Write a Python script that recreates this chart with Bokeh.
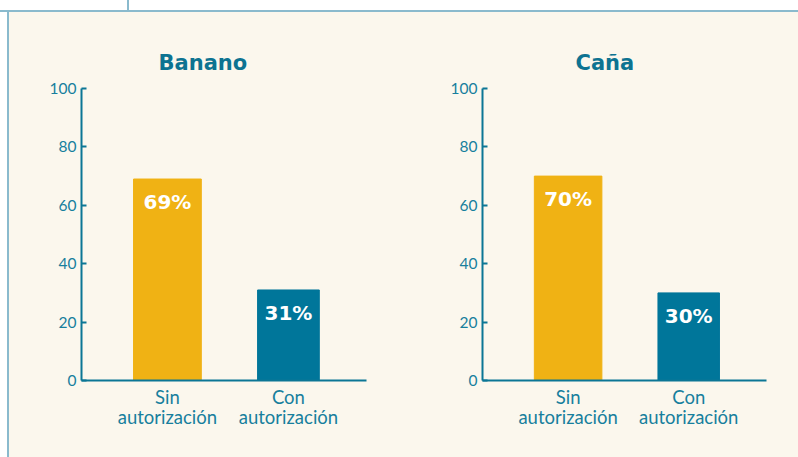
from bokeh.plotting import figure
from bokeh.layouts import column, row
from bokeh.models import Div, Range1d, FixedTicker, ColumnDataSource, LabelSet
from bokeh.core.properties import value
from bokeh.embed import file_html
from bokeh.resources import INLINE

# ---- data ----
categories = ["Sin\nautorización", "Con\nautorización"]
banano = [69, 31]
cana = [70, 30]
titles = ["Banano", "Caña"]
yticks = [0, 20, 40, 60, 80, 100]

# ---- styles ----
BG = "#FBF7ED"
FRAME = "#8ABACD"
YELLOW = "#F0B214"
TEAL = "#00769A"
AXIS = "#0B7695"
LABEL = "#177F9D"
TITLE = "#0D7391"
bar_colors = [YELLOW, TEAL]
bar_widths = [0.56, 0.51]
PANEL_H = 445


def make_panel(title, values, width, left_border, right_border, title_offset):
    p = figure(width=width, height=PANEL_H, output_backend="svg", toolbar_location=None,
               x_range=Range1d(-0.71, 1.645), y_range=Range1d(0, 100),
               min_border_left=left_border, min_border_right=right_border,
               min_border_top=76, min_border_bottom=PANEL_H - 76 - 292,
               background_fill_color=BG, border_fill_color=BG,
               outline_line_color=None)
    idx = list(range(len(categories)))
    src = ColumnDataSource(dict(
        x=idx, top=values, color=bar_colors, w=bar_widths,
        label=[f"{v}%" for v in values],
    ))
    p.vbar(x="x", top="top", width="w", bottom=0, color="color", source=src)

    labels = LabelSet(x="x", y="top", text="label", source=src,
                      text_align="center", text_baseline="top", y_offset=-11,
                      text_color="white", text_font=value("DejaVu Sans"),
                      text_font_style="bold", text_font_size="20px")
    p.add_layout(labels)

    p.title.text = title
    p.title.align = "left"
    p.title.offset = title_offset
    p.title.standoff = 27
    p.title.text_font = "DejaVu Sans"
    p.title.text_font_style = "bold"
    p.title.text_font_size = "21px"
    p.title.text_color = TITLE

    p.xgrid.visible = False
    p.ygrid.visible = False

    xa = p.xaxis[0]
    xa.ticker = FixedTicker(ticks=idx, minor_ticks=[])
    xa.major_label_overrides = {i: c for i, c in enumerate(categories)}
    xa.major_tick_line_color = None
    xa.minor_tick_line_color = None
    xa.axis_line_color = AXIS
    xa.axis_line_width = 2
    xa.major_label_text_font = "Lato"
    xa.major_label_text_font_size = "18.5px"
    xa.major_label_text_color = LABEL
    xa.major_label_text_line_height = 0.92
    xa.major_label_standoff = -1

    ya = p.yaxis[0]
    ya.ticker = FixedTicker(ticks=yticks, minor_ticks=[])
    ya.major_tick_in = 5
    ya.major_tick_out = 0
    ya.major_tick_line_color = AXIS
    ya.major_tick_line_width = 2
    ya.minor_tick_line_color = None
    ya.axis_line_color = AXIS
    ya.axis_line_width = 2
    ya.major_label_text_font = "Lato"
    ya.major_label_text_font_size = "15.5px"
    ya.major_label_text_color = LABEL
    ya.major_label_standoff = 5
    return p


p1 = make_panel(titles[0], banano, 401, 72, 44, 77)
p2 = make_panel(titles[1], cana, 388, 72, 32, 93)

top_div = Div(text="", width=798, height=12, margin=0, styles={
    "background": ("linear-gradient(to right, transparent 127px, %s 127px, %s 129px, transparent 129px), "
                   "linear-gradient(to bottom, #FFFFFF 0px, #FFFFFF 10px, %s 10px, %s 12px)")
                  % (FRAME, FRAME, FRAME, FRAME)
})
left_div = Div(text="", width=9, height=PANEL_H, margin=0, styles={
    "background": "linear-gradient(to right, #FFFFFF 0px, #FFFFFF 7px, %s 7px, %s 9px)" % (FRAME, FRAME)
})

layout = column(top_div,
                row(left_div, p1, p2, spacing=0, styles={"background-color": BG}),
                spacing=0)

open("out.html", "w").write(file_html(layout, INLINE))
